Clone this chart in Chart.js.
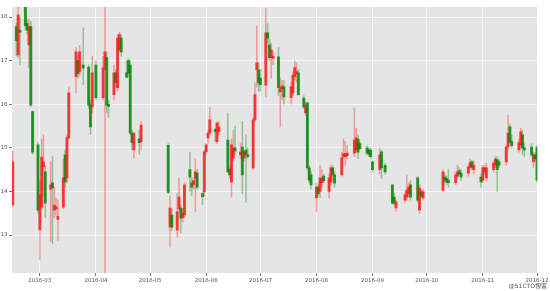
<!DOCTYPE html>
<html>
<head>
<meta charset="utf-8">
<script src="https://cdn.jsdelivr.net/npm/chart.js@4.4.0/dist/chart.umd.min.js"></script>
<style>
  html, body { margin: 0; background: #fff; }
  #wrap { width: 550px; height: 291px; }
</style>
</head>
<body>
<div id="wrap"><canvas id="kline" width="550" height="291"></canvas></div>
<script>
// daily candles, one entry per trading day
const dates = [
  '2016-02-15','2016-02-17','2016-02-18','2016-02-19','2016-02-22','2016-02-23','2016-02-24','2016-02-25','2016-02-26','2016-02-29',
  '2016-03-01','2016-03-02','2016-03-03','2016-03-04','2016-03-07','2016-03-08','2016-03-09','2016-03-10','2016-03-11','2016-03-14',
  '2016-03-15','2016-03-16','2016-03-17','2016-03-21','2016-03-22','2016-03-23','2016-03-25','2016-03-28','2016-03-29','2016-03-30',
  '2016-04-01','2016-04-05','2016-04-06','2016-04-07','2016-04-08','2016-04-11','2016-04-12','2016-04-13','2016-04-14','2016-04-15',
  '2016-04-18','2016-04-19','2016-04-20','2016-04-21','2016-04-22','2016-04-25','2016-04-26',
  '2016-05-11','2016-05-12','2016-05-13','2016-05-16','2016-05-17','2016-05-18','2016-05-19','2016-05-20','2016-05-23','2016-05-24',
  '2016-05-25','2016-05-26','2016-05-27','2016-05-30','2016-05-31',
  '2016-06-01','2016-06-02','2016-06-03','2016-06-06','2016-06-07','2016-06-08','2016-06-13','2016-06-14','2016-06-15','2016-06-16',
  '2016-06-17','2016-06-20','2016-06-21','2016-06-22','2016-06-23','2016-06-24','2016-06-27','2016-06-28','2016-06-29','2016-06-30',
  '2016-07-01','2016-07-04','2016-07-05','2016-07-06','2016-07-07','2016-07-08','2016-07-11','2016-07-12','2016-07-13','2016-07-14',
  '2016-07-18','2016-07-19','2016-07-20','2016-07-21','2016-07-22','2016-07-25','2016-07-26','2016-07-27','2016-07-28','2016-07-29',
  '2016-08-01','2016-08-02','2016-08-03','2016-08-04','2016-08-05','2016-08-08','2016-08-09','2016-08-10','2016-08-11','2016-08-15',
  '2016-08-16','2016-08-17','2016-08-18','2016-08-22','2016-08-23','2016-08-24','2016-08-25','2016-08-29','2016-08-30','2016-08-31',
  '2016-09-01','2016-09-05','2016-09-06','2016-09-08','2016-09-12','2016-09-13','2016-09-14','2016-09-19','2016-09-20','2016-09-21',
  '2016-09-22','2016-09-26','2016-09-27','2016-09-28','2016-09-29',
  '2016-10-10','2016-10-11','2016-10-12','2016-10-13','2016-10-17','2016-10-18','2016-10-19','2016-10-20','2016-10-24','2016-10-25',
  '2016-10-26','2016-10-27','2016-10-31',
  '2016-11-01','2016-11-02','2016-11-03','2016-11-07','2016-11-08','2016-11-09','2016-11-10','2016-11-14','2016-11-15','2016-11-16',
  '2016-11-17','2016-11-21','2016-11-22','2016-11-23','2016-11-24','2016-11-28','2016-11-29','2016-11-30',
  '2016-12-01'
];
const open = [
  13.69,17.78,17.13,17.70,18.25,17.85,17.36,17.78,15.83,15.07,
  13.12,13.64,14.56,14.45,14.05,14.20,13.57,13.60,13.36,13.64,
  14.84,14.31,15.23,16.63,17.00,16.74,16.90,16.85,15.98,15.94,
  16.90,16.15,16.80,17.07,16.00,16.22,16.72,16.38,17.25,17.52,
  16.72,17.00,16.90,15.34,14.95,15.20,15.14,
  15.06,13.18,13.46,13.11,13.60,13.62,13.40,13.46,14.50,14.20,
  14.16,14.30,14.42,13.95,13.99,
  14.91,15.23,15.34,15.42,15.14,15.37,15.18,14.50,14.22,14.77,
  15.00,14.84,15.02,14.77,14.95,14.84,14.54,15.64,16.79,16.79,
  16.60,16.44,17.64,17.36,17.07,17.05,17.09,16.28,16.35,16.40,
  16.15,16.26,16.63,16.70,16.72,16.14,15.80,16.03,14.54,14.38,
  13.85,14.10,14.00,14.20,14.35,14.00,14.22,14.54,14.38,14.38,
  14.80,14.80,14.82,14.88,14.95,15.20,15.10,15.00,14.95,14.95,
  14.68,14.50,14.91,14.60,14.15,13.87,13.62,13.80,13.87,13.95,
  14.15,14.31,13.57,14.00,13.85,
  14.03,14.33,14.30,14.26,14.20,14.35,14.48,14.42,14.42,14.55,
  14.68,14.50,14.33,
  14.26,14.45,14.31,14.50,14.60,14.72,14.68,14.68,15.02,15.48,
  15.15,14.95,15.07,15.30,15.00,15.02,14.68,14.84,
  15.02
];
const high = [
  14.92,17.85,18.35,18.00,18.30,17.95,17.95,17.90,15.85,15.12,
  14.26,15.20,15.30,14.60,14.68,14.80,14.10,13.85,13.80,14.75,
  14.95,15.30,16.40,17.30,17.15,17.35,17.75,16.90,16.10,17.10,
  17.00,17.10,19.50,17.20,16.10,16.90,16.80,17.60,17.65,17.60,
  17.00,17.05,17.00,15.40,15.34,15.40,15.60,
  15.10,13.90,13.60,13.95,14.30,13.70,13.60,14.20,14.90,14.30,
  14.30,14.75,14.50,14.00,14.95,
  15.10,15.40,15.93,15.45,15.60,15.60,15.80,14.55,15.20,15.40,
  15.50,15.10,15.60,14.95,15.30,15.00,15.70,16.49,17.80,16.95,
  16.80,18.20,17.85,17.50,17.40,17.20,17.30,16.60,16.55,16.55,
  16.50,16.75,17.00,16.95,16.80,16.20,16.05,16.05,14.60,14.45,
  14.20,14.15,14.60,14.50,14.40,14.40,14.60,14.60,14.45,14.90,
  15.20,15.15,15.05,15.92,15.45,15.30,15.15,15.05,15.00,15.00,
  14.70,15.00,14.95,14.65,14.15,13.95,13.80,14.00,14.38,14.20,
  14.25,14.35,14.15,14.05,14.05,
  14.50,14.40,14.35,14.50,14.45,14.60,14.55,14.50,14.60,14.75,
  14.72,14.70,14.40,
  14.60,14.60,14.65,14.70,14.80,14.80,14.75,15.05,15.75,15.55,
  15.30,15.20,15.45,15.40,15.10,15.10,14.90,14.90,
  15.05
];
const low = [
  13.65,17.10,17.08,16.90,17.70,17.60,16.84,15.95,14.85,13.50,
  12.43,13.60,13.90,13.40,12.85,12.80,13.40,13.45,12.88,13.60,
  14.10,14.20,15.20,16.26,16.60,16.65,16.45,15.90,15.30,15.80,
  16.10,16.10,11.50,15.80,15.70,16.10,16.40,16.30,17.20,17.10,
  16.60,16.65,15.30,14.95,14.77,14.85,14.95,
  13.95,12.72,13.10,12.95,13.55,13.05,13.30,13.40,14.00,13.90,
  14.05,13.53,14.05,13.70,13.90,
  14.85,15.10,15.30,15.15,15.10,15.30,14.43,14.30,13.87,14.70,
  14.85,14.75,13.95,14.70,13.75,14.75,14.50,15.60,16.40,16.30,
  16.30,16.17,17.40,17.00,16.60,16.90,16.20,15.48,16.10,16.00,
  16.00,16.20,16.55,16.50,16.20,15.90,15.75,14.50,14.20,14.05,
  13.53,13.90,13.85,14.10,14.20,13.85,14.15,14.35,14.10,14.35,
  14.75,14.60,14.75,14.80,14.90,14.75,14.95,14.85,14.80,14.75,
  14.45,14.40,14.30,14.40,13.70,13.70,13.55,13.75,13.80,13.90,
  13.80,13.75,13.50,13.85,13.80,
  14.00,14.20,14.15,14.10,14.15,14.30,14.35,14.25,14.35,14.50,
  14.50,14.40,14.10,
  14.20,14.40,14.25,14.45,14.55,14.00,14.55,14.60,14.95,15.10,
  15.00,14.90,15.00,14.85,14.80,14.80,14.55,14.70,
  14.20
];
const close = [
  14.68,17.46,18.05,17.65,17.80,17.70,17.78,15.98,14.90,13.57,
  13.92,14.79,14.68,13.73,14.15,14.08,13.69,13.65,13.43,14.31,
  14.22,15.23,16.26,17.20,16.70,17.20,16.83,15.98,15.48,16.72,
  16.15,16.84,17.20,15.98,15.95,16.72,16.50,17.52,17.60,17.20,
  16.62,16.72,15.34,15.12,15.34,15.12,15.52,
  13.98,13.62,13.18,13.53,13.87,13.39,13.50,14.15,14.33,14.10,
  14.25,14.45,14.10,13.88,14.91,
  15.07,15.34,15.64,15.37,15.57,15.48,14.45,14.38,15.07,15.00,
  14.93,14.91,14.38,14.91,14.84,14.80,15.64,16.22,16.95,16.49,
  16.45,17.64,17.52,17.07,17.25,17.10,16.38,16.38,16.42,16.17,
  16.40,16.67,16.84,16.75,16.22,15.94,15.98,14.54,14.26,14.15,
  14.10,13.95,14.31,14.30,14.25,14.31,14.54,14.38,14.19,14.77,
  14.86,14.86,14.88,15.18,15.23,14.90,14.98,14.88,14.85,14.80,
  14.50,14.84,14.54,14.45,13.73,13.73,13.76,13.92,14.03,14.10,
  13.87,13.80,14.08,13.90,13.99,
  14.45,14.26,14.22,14.20,14.38,14.45,14.40,14.33,14.56,14.66,
  14.55,14.60,14.22,
  14.54,14.55,14.54,14.65,14.75,14.50,14.60,15.02,15.34,15.14,
  15.05,15.12,15.37,15.00,14.95,14.84,14.84,14.75,
  14.26
];
const xTicks = ['2016-03','2016-04','2016-05','2016-06','2016-07','2016-08','2016-09','2016-10','2016-11','2016-12'];
const yTicks = [13, 14, 15, 16, 17, 18];

const t0 = Date.UTC(2016, 0, 1);
function dayNum(s) {
  const p = s.split('-').map(Number);
  return (Date.UTC(p[0], p[1] - 1, p[2] || 1) - t0) / 86400000;
}
function candleColor(i, alpha) {
  return close[i] >= open[i] ? `rgba(250,20,20,${alpha})` : `rgba(0,128,0,${alpha})`;
}

const plotBg = {
  id: 'plotBg',
  beforeDraw(chart) {
    const { ctx, chartArea: a } = chart;
    ctx.save();
    ctx.fillStyle = '#e5e5e5';
    ctx.fillRect(a.left, a.top, a.right - a.left, a.bottom - a.top);
    ctx.restore();
  }
};
const watermark = {
  id: 'watermark',
  afterDraw(chart) {
    const ctx = chart.ctx;
    ctx.save();
    ctx.font = '6px "DejaVu Sans", "Noto Sans CJK SC"';
    ctx.fillStyle = '#555';
    ctx.textAlign = 'right';
    ctx.fillText('@51CTO博客', 547, 288);
    ctx.restore();
  }
};

Chart.defaults.font.family = '"DejaVu Sans", sans-serif';

new Chart(document.getElementById('kline'), {
  type: 'bar',
  data: {
    datasets: [{
      label: 'body',
      data: dates.map((d, i) => ({ x: dayNum(d), y: [open[i], close[i]] })),
      backgroundColor: c => candleColor(c.dataIndex, 0.78),
      barThickness: 2.3,
      minBarLength: 1,
      grouped: false,
      order: 0
    }, {
      label: 'wick',
      data: dates.map((d, i) => ({ x: dayNum(d), y: [low[i], high[i]] })),
      backgroundColor: c => candleColor(c.dataIndex, 0.35),
      barThickness: 0.9,
      grouped: false,
      order: 1
    }]
  },
  options: {
    responsive: false,
    animation: false,
    devicePixelRatio: 1,
    layout: { padding: { top: 7, right: 12, left: 0, bottom: 0 } },
    plugins: { legend: { display: false }, tooltip: { enabled: false } },
    scales: {
      x: {
        type: 'linear',
        min: dayNum('2016-02-15') - 0.4,
        max: dayNum('2016-12-01') + 0.15,
        offset: false,
        border: { display: false },
        grid: { color: 'rgba(255,255,255,0.9)', lineWidth: 0.8, offset: false, tickColor: '#555', tickLength: 3 },
        ticks: {
          color: '#555', font: { size: 5.5 }, padding: 1.5, maxRotation: 0, autoSkip: false,
          callback: (v, i) => xTicks[i]
        },
        afterBuildTicks: s => { s.ticks = xTicks.map(t => ({ value: dayNum(t) })); },
        afterFit: s => { s.height = 18; }
      },
      y: {
        min: 12.13,
        max: 18.23,
        border: { display: false },
        grid: { color: 'rgba(255,255,255,0.9)', lineWidth: 0.8, tickColor: '#555', tickLength: 3 },
        ticks: { color: '#555', font: { size: 5.5 }, padding: 1.5, callback: v => v },
        afterBuildTicks: s => { s.ticks = yTicks.map(v => ({ value: v })); },
        afterFit: s => { s.width = 12; }
      }
    }
  },
  plugins: [plotBg, watermark]
});
</script>
</body>
</html>
